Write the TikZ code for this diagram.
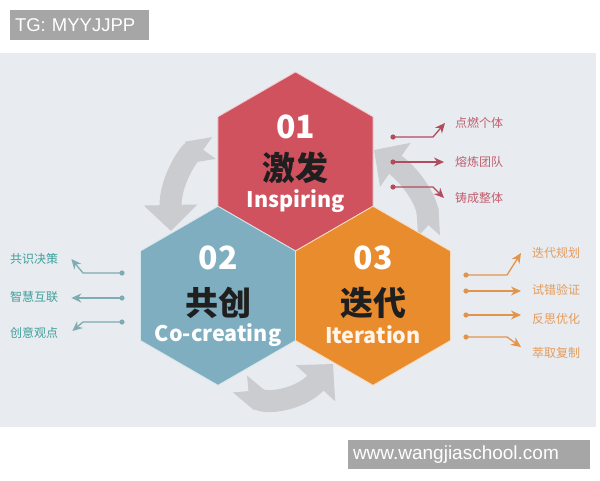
\documentclass[tikz,border=0pt]{standalone}
\usepackage{fontspec}
\setmainfont{Liberation Sans}
\newfontfamily\cjk{Noto Sans CJK SC}
\usetikzlibrary{shapes.geometric,arrows.meta}
\definecolor{bgpanel}{RGB}{232,235,239}
\definecolor{hexred}{RGB}{207,82,94}
\definecolor{hexblue}{RGB}{126,174,192}
\definecolor{hexorange}{RGB}{233,140,46}
\definecolor{cyclegray}{RGB}{202,204,208}
\definecolor{taggray}{RGB}{166,166,166}
\definecolor{redtext}{RGB}{192,96,112}
\definecolor{redline}{RGB}{178,76,92}
\definecolor{tealtext}{RGB}{62,160,156}
\definecolor{tealline}{RGB}{126,172,178}
\definecolor{orangetext}{RGB}{228,156,92}
\definecolor{orangeline}{RGB}{226,148,76}
\tikzset{
  hexagon/.style={regular polygon, regular polygon sides=6, shape border rotate=30,
    minimum size=179pt, inner sep=0pt, draw=white!70!#1, line width=0.8pt, fill=#1},
  hexnum/.style={text=white, font=\cjk\bfseries\fontsize{32}{34}\selectfont},
  hexword/.style={text=black!88, font=\cjk\bfseries\fontsize{33}{35}\selectfont},
  hexeng/.style={text=white, font=\cjk\bfseries\fontsize{21.5}{23}\selectfont},
  cyclearrow/.style={cyclegray, line width=22pt,
    {Triangle Cap[reversed]}-{Triangle[width=52pt,length=26pt]}},
  item/.style={font=\cjk\fontsize{12}{14}\selectfont, inner sep=0pt},
  itemline/.style={line width=1.3pt, -{Stealth[length=10pt,width=9pt]}},
  tag/.style={fill=taggray, text=white, inner ysep=0pt, inner xsep=5pt, align=left}
}
\begin{document}
\begin{tikzpicture}[x=1pt,y=-1pt]
\pgfmathsetmacro{\hr}{89.5}
\pgfmathsetmacro{\hw}{77.5}
\useasboundingbox (0,0) rectangle (600,480);
\fill[white] (0,0) rectangle (600,480);
\fill[bgpanel] (0,53) rectangle (596,427);
\node[tag, text width=129pt, minimum height=30pt, font=\fontsize{18.5}{20}\selectfont] (tg) at (79.5,25) {TG: MYYJJPP};
\node[tag, text width=232pt, minimum height=29pt, font=\fontsize{19}{21}\selectfont] (site) at (469,454.5) {www.wangjiaschool.com};

\coordinate (ul1) at (214,148);
\coordinate (ul2) at (171,231);
\coordinate (bt1) at (240,384);
\coordinate (bt2) at (333,364);
\coordinate (rt1) at (429,236);
\coordinate (rt2) at (374,150);
\draw[cyclearrow] (ul1) .. controls (190,152) and (170,180) .. (ul2);
\draw[cyclearrow] (bt1) .. controls (265,405) and (300,400) .. (bt2);
\draw[cyclearrow] (rt1) .. controls (427,200) and (410,175) .. (rt2);

\node[hexagon=hexred] (insp) at (295.5,161.5) {};
\node[hexagon=hexblue] (cocr) at (295.5-\hw,161.5+1.5*\hr) {};
\node[hexagon=hexorange] (iter) at (295.5+\hw,161.5+1.5*\hr) {};
\node[hexnum] (insp-n) at ([yshift=35pt]insp.center) {01};
\node[hexword] (insp-w) at ([yshift=-6pt]insp.center) {激发};
\node[hexeng] (insp-e) at ([yshift=-40pt]insp.center) {Inspiring};
\node[hexnum] (cocr-n) at ([yshift=38pt]cocr.center) {02};
\node[hexword] (cocr-w) at ([yshift=-7pt]cocr.center) {共创};
\node[hexeng] (cocr-e) at ([yshift=-39pt]cocr.center) {Co-creating};
\node[hexnum] (iter-n) at ([yshift=38pt]iter.center) {03};
\node[hexword] (iter-w) at ([yshift=-7pt]iter.center) {迭代};
\node[hexeng, text=white!92!orange] (iter-e) at ([yshift=-39pt]iter.center) {Iteration};

\node[item, text=redtext, anchor=west] (ri1) at (455,123) {点燃个体};
\node[item, text=redtext, anchor=west] (ri2) at (455,162) {熔炼团队};
\node[item, text=redtext, anchor=west] (ri3) at (455,198) {铸成整体};
\coordinate (ri1dot) at (393,137);
\coordinate (ri2dot) at (393,162);
\coordinate (ri3dot) at (393,187);
\draw[itemline, redline] (ri1dot) -- ++(40,0) -- ([xshift=-10pt]ri1.west);
\draw[itemline, redline] (ri2dot) -- ([xshift=-11pt]ri2.west);
\draw[itemline, redline] (ri3dot) -- ++(40,0) -- ([xshift=-11pt]ri3.west);
\fill[redline] (ri1dot) circle (2.6pt) (ri2dot) circle (2.6pt) (ri3dot) circle (2.6pt);

\node[item, text=tealtext, anchor=west] (cc1) at (10,259) {共识决策};
\node[item, text=tealtext, anchor=west] (cc2) at (10,297) {智慧互联};
\node[item, text=tealtext, anchor=west] (cc3) at (10,333) {创意观点};
\coordinate (cc1dot) at (122,273);
\coordinate (cc2dot) at (122,298);
\coordinate (cc3dot) at (122,322);
\draw[itemline, tealline] (cc1dot) -- ++(-39,0) -- ([xshift=13pt]cc1.east);
\draw[itemline, tealline] (cc2dot) -- ([xshift=13pt,yshift=-1pt]cc2.east);
\draw[itemline, tealline] (cc3dot) -- ++(-39,0) -- ([xshift=14pt,yshift=2pt]cc3.east);
\fill[tealline] (cc1dot) circle (2.6pt) (cc2dot) circle (2.6pt) (cc3dot) circle (2.6pt);

\node[item, text=orangetext, anchor=west] (it1) at (532,253) {迭代规划};
\node[item, text=orangetext, anchor=west] (it2) at (532,290) {试错验证};
\node[item, text=orangetext, anchor=west] (it3) at (532,319) {反思优化};
\node[item, text=orangetext, anchor=west] (it4) at (532,353) {萃取复制};
\coordinate (it1dot) at (466,275);
\coordinate (it2dot) at (466,291);
\coordinate (it3dot) at (466,315);
\coordinate (it4dot) at (466,337);
\draw[itemline, orangeline] (it1dot) -- ++(41,0) -- ([xshift=-11pt]it1.west);
\draw[itemline, orangeline] (it2dot) -- ([xshift=-11pt,yshift=-1pt]it2.west);
\draw[itemline, orangeline] (it3dot) -- ([xshift=-11pt,yshift=4pt]it3.west);
\draw[itemline, orangeline] (it4dot) -- ++(41,0) -- ([xshift=-11pt,yshift=6pt]it4.west);
\fill[orangeline] (it1dot) circle (2.6pt) (it2dot) circle (2.6pt) (it3dot) circle (2.6pt) (it4dot) circle (2.6pt);
\end{tikzpicture}
\end{document}
